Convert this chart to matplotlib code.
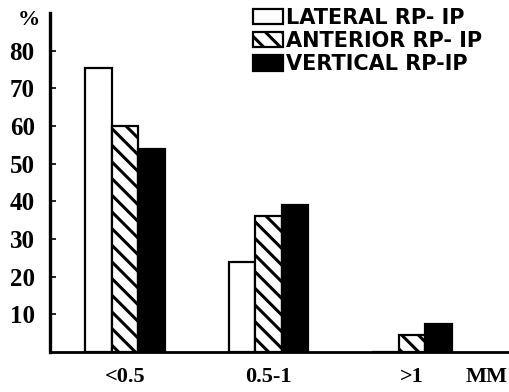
import numpy as np
import matplotlib.pyplot as plt

categories = ['<0.5', '0.5-1', '>1']
lateral = [75.5, 24, 0]
anterior = [60, 36, 4.5]
vertical = [54, 39, 7.5]
yticks = [10, 20, 30, 40, 50, 60, 70, 80]
legend_labels = ['LATERAL RP- IP', 'ANTERIOR RP- IP', 'VERTICAL RP-IP']

plt.rcParams['hatch.linewidth'] = 2.2
serif = 'Liberation Serif'

fig = plt.figure(figsize=(5.09, 3.92), dpi=100)
ax = fig.add_axes([0.0982, 0.102, 0.9018, 0.8648])

x = np.arange(len(categories))
w = 0.184
b1 = ax.bar(x - w, lateral, w, color='white', edgecolor='black', linewidth=1.6)
b2 = ax.bar(x, anterior, w, color='white', edgecolor='black', linewidth=1.6, hatch='\\\\')
b3 = ax.bar(x + w, vertical, w, color='black', edgecolor='black', linewidth=1.6)

ax.set_xlim(-0.523, 2.676)
ax.set_ylim(0, 90)

ax.spines['top'].set_visible(False)
ax.spines['right'].set_visible(False)
ax.spines['left'].set_linewidth(2.4)
ax.spines['bottom'].set_linewidth(2.0)

ax.set_yticks(yticks)
ax.set_yticklabels([str(v) for v in yticks], fontfamily=serif, fontweight='bold', fontsize=18)
ax.tick_params(axis='y', direction='in', length=4, width=1.2, pad=11)
ax.set_xticks(x)
ax.set_xticklabels(categories, fontfamily=serif, fontweight='bold', fontsize=16)
ax.tick_params(axis='x', length=0, pad=11)

ax.annotate('MM', xy=(0.998, 0), xycoords='axes fraction', xytext=(0, -11),
            textcoords='offset points', ha='right', va='top',
            fontfamily=serif, fontweight='bold', fontsize=16)
fig.text(29 / 509, 1 - 20 / 392, '%', ha='center', va='center',
         fontfamily=serif, fontweight='bold', fontsize=16)

leg = ax.legend([b1, b2, b3], legend_labels, loc='upper left',
                bbox_to_anchor=(253 / 509, 1 - 8 / 392), bbox_transform=fig.transFigure,
                frameon=False, handlelength=1.45, handleheight=0.75, handletextpad=0.12,
                labelspacing=0.15, borderaxespad=0, borderpad=0,
                prop={'family': 'DejaVu Sans', 'weight': 'bold', 'size': 15})

fig.savefig('out.png', dpi=100)
